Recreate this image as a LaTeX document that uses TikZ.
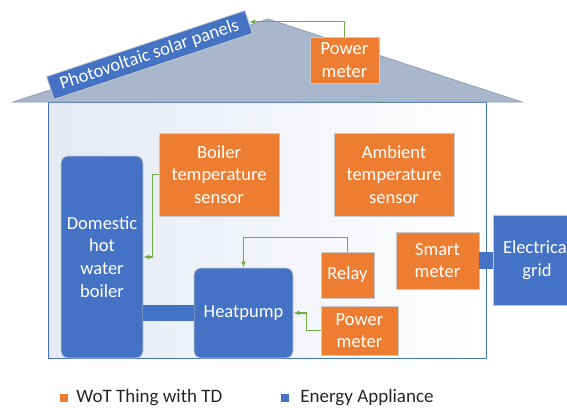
\documentclass[tikz,border=0pt]{standalone}
\usepackage{fontspec}
\setmainfont{Carlito}
\usetikzlibrary{arrows.meta,positioning}

\definecolor{thingorange}{HTML}{ED7D31}
\definecolor{appblue}{HTML}{4472C4}
\definecolor{roofgrey}{HTML}{A9B7CC}
\definecolor{roofedge}{HTML}{8E9FBA}
\definecolor{wallshade}{HTML}{E4E9F3}
\definecolor{wiregreen}{HTML}{70AD47}
\definecolor{edgegrey}{HTML}{C9C9C9}

\begin{document}
\begin{tikzpicture}[x=1pt, y=-1pt,
    box/.style={draw=edgegrey, line width=0.8pt, text=white, align=center, inner sep=0pt,
        font=\fontsize{18.5}{22.7}\selectfont},
    thing/.style={box, fill=thingorange},
    appliance/.style={box, fill=appblue},
    sig/.style={wiregreen, line width=1.1pt, -{Latex[length=6pt,width=5pt]}},
    bar/.style={appblue, line width=16pt},
    keybox/.style={minimum size=8pt, inner sep=0pt},
    keytext/.style={font=\fontsize{19}{22}\selectfont, text=black!85, inner sep=0pt}]
    \useasboundingbox (0,0) rectangle (567,407);
    \clip (0,0) rectangle (567,407);

    % house
    \shade[left color=wallshade, right color=white, draw=appblue, line width=0.8pt] (48,102) rectangle (486,358);
    \filldraw[fill=roofgrey, draw=roofedge, line width=0.8pt] (13,102) -- (268,19) -- (522,102) -- cycle;

    \node[appliance, rotate=18.4, minimum width=209pt, minimum height=24pt] (panel) at (149.5,55) {Photovoltaic solar panels};
    \node[thing, minimum width=69pt, minimum height=46pt] (pvmeter) at (344.5,60) {Power\\meter};

    \node[appliance, rounded corners=7pt, minimum width=82pt, minimum height=202pt] (boiler) at (102,257) {Domestic\\hot\\water\\boiler};
    \node[thing, minimum width=120pt, minimum height=83pt] (boilersensor) at (219,174.5) {Boiler\\temperature\\sensor};
    \node[thing, minimum width=120pt, minimum height=83pt] (ambient) at (394,174.5) {Ambient\\temperature\\sensor};
    \node[appliance, rounded corners=7pt, minimum width=99pt, minimum height=90pt] (heatpump) at (243.5,313) {Heatpump};
    \node[thing, minimum width=53pt, minimum height=46pt] (relay) at (347.5,275) {Relay};
    \node[thing, minimum width=77pt, minimum height=49pt] (hpmeter) at (359.5,330.5) {Power\\meter};
    \node[thing, minimum width=83pt, minimum height=57pt] (smart) at (437.5,260.5) {Smart\\meter};
    \node[appliance, minimum width=88pt, minimum height=90pt] (grid) at (537,260) {Electrical\\grid};

    % links
    \draw[bar] (heatpump.west) -- (heatpump.west -| boiler.east);
    \draw[bar, line width=17pt] (smart.east) -- (smart.east -| grid.west);

    \draw[sig] (pvmeter.north) |- (panel.east);
    \draw[sig] (boilersensor.west) -- ++(-6,0) |- (boiler.east);
    \draw[sig] (relay.north) -- ++(0,-14) -| (heatpump.north);
    \draw[sig] (hpmeter.west) -- ++(-14,0) |- (heatpump.east);

    % legend
    \node[keybox, fill=thingorange] (keything) at (64,398) {};
    \node[keytext, right=8pt of keything] (keythingtext) {WoT Thing with TD};
    \node[keybox, fill=appblue] (keyapp) at (285,398) {};
    \node[keytext, right=11pt of keyapp] (keyapptext) {Energy Appliance};
\end{tikzpicture}
\end{document}
